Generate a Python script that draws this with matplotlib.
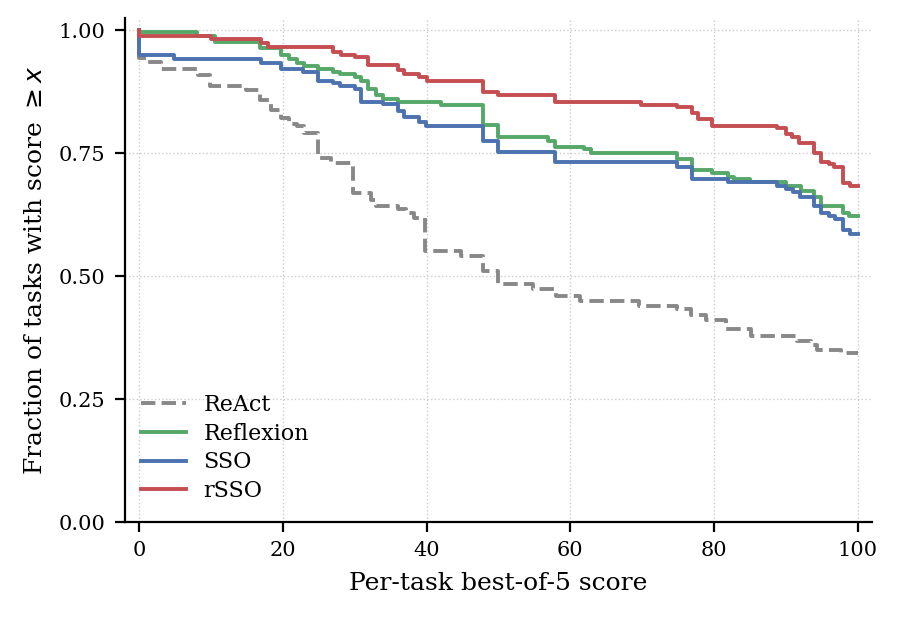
"""Survival curves of per-task best-of-5 scores for four agent variants."""

import matplotlib

matplotlib.use("Agg")
import matplotlib.pyplot as plt

# step breakpoints (x) and the level held from each breakpoint on (y)
react_x = [0, 0, 1.2, 3.1, 8.2, 9.8, 14.9, 16.8, 18.4, 19.8, 20.9, 21.9, 23.0, 24.9,
           26.7, 29.7, 32.2, 33.0, 36.0, 37.2, 38.3, 39.8, 44.8, 47.8, 49.9, 54.8,
           58.0, 61.3, 69.6, 74.9, 76.8, 78.9, 81.7, 85.1, 91.6, 93.5, 94.4, 97.7, 100]
react_y = [1.0, 0.943, 0.936, 0.922, 0.910, 0.886, 0.878, 0.858, 0.838, 0.821, 0.809,
           0.805, 0.792, 0.740, 0.730, 0.669, 0.655, 0.643, 0.636, 0.628, 0.618, 0.551,
           0.540, 0.510, 0.485, 0.473, 0.459, 0.449, 0.440, 0.433, 0.422, 0.410, 0.393,
           0.379, 0.368, 0.361, 0.349, 0.343, 0.343]

reflexion_x = [0, 0, 8.1, 10.5, 16.8, 19.8, 20.9, 21.9, 23.0, 24.9, 27.0, 27.9, 30.0,
               30.9, 31.9, 33.0, 34.0, 36.0, 42.0, 47.9, 49.9, 56.9, 57.9, 61.9, 62.9,
               74.9, 76.9, 79.8, 82.0, 82.8, 85.0, 90.0, 92.1, 94.0, 94.9, 97.9, 98.8, 100]
reflexion_y = [1.0, 0.996, 0.989, 0.976, 0.963, 0.949, 0.941, 0.934, 0.928, 0.921, 0.915,
               0.911, 0.905, 0.897, 0.880, 0.868, 0.860, 0.855, 0.849, 0.807, 0.782, 0.775,
               0.763, 0.758, 0.751, 0.738, 0.715, 0.709, 0.702, 0.697, 0.691, 0.684, 0.673,
               0.660, 0.642, 0.629, 0.623, 0.623]

sso_x = [0, 0, 4.9, 16.9, 19.8, 22.8, 24.9, 27.0, 27.9, 30.0, 30.9, 33.9, 36.0, 36.9,
         38.9, 39.9, 47.9, 49.9, 57.9, 74.9, 76.9, 81.9, 88.8, 90.0, 91.0, 92.0, 94.0,
         94.9, 96.0, 96.9, 97.9, 99.0, 100]
sso_y = [1.0, 0.949, 0.941, 0.934, 0.922, 0.915, 0.897, 0.892, 0.886, 0.880, 0.855, 0.850,
         0.836, 0.824, 0.814, 0.806, 0.775, 0.752, 0.733, 0.722, 0.698, 0.691, 0.684, 0.677,
         0.671, 0.661, 0.642, 0.629, 0.623, 0.617, 0.593, 0.586, 0.586]

rsso_x = [0, 0, 10.0, 17.0, 17.9, 27.0, 28.1, 30.0, 31.9, 36.0, 36.9, 39.0, 40.0, 47.8,
          49.9, 57.9, 69.8, 74.9, 76.9, 77.8, 79.8, 88.8, 90.0, 90.9, 91.9, 94.0, 94.9,
          96.0, 96.7, 98.0, 99.0, 100]
rsso_y = [1.0, 0.989, 0.982, 0.974, 0.965, 0.956, 0.949, 0.946, 0.929, 0.919, 0.911, 0.904,
          0.897, 0.874, 0.868, 0.855, 0.849, 0.843, 0.831, 0.819, 0.806, 0.801, 0.789, 0.782,
          0.770, 0.751, 0.733, 0.728, 0.722, 0.690, 0.684, 0.684]

x_ticks = [0, 20, 40, 60, 80, 100]
y_ticks = [0.0, 0.25, 0.5, 0.75, 1.0]


def main() -> None:
    plt.rcParams["font.family"] = "DejaVu Serif"
    plt.rcParams["mathtext.fontset"] = "dejavusans"

    fig, ax = plt.subplots(figsize=(4.49, 3.1), dpi=200)
    fig.subplots_adjust(left=0.139, right=0.971, bottom=0.158, top=0.971)

    lw = 1.4
    ax.step(react_x, react_y, where="post", color="#888888", lw=lw, ls="--", label="ReAct")
    ax.step(reflexion_x, reflexion_y, where="post", color="#55A868", lw=lw, label="Reflexion")
    ax.step(sso_x, sso_y, where="post", color="#4C72B0", lw=lw, label="SSO")
    ax.step(rsso_x, rsso_y, where="post", color="#C44E52", lw=lw, label="rSSO")

    ax.set_xlim(-2, 102)
    ax.set_ylim(0, 1.025)
    ax.set_xticks(x_ticks)
    ax.set_yticks(y_ticks)
    ax.set_yticklabels([f"{v:.2f}" for v in y_ticks])
    ax.tick_params(labelsize=7.5, width=0.8, length=3.5)
    ax.grid(True, ls=":", lw=0.5, color="#cccccc")
    ax.spines["top"].set_visible(False)
    ax.spines["right"].set_visible(False)

    ax.set_xlabel("Per-task best-of-5 score", fontsize=9)
    ax.set_ylabel(r"Fraction of tasks with score $\geq x$", fontsize=9)
    ax.legend(loc="lower left", bbox_to_anchor=(-0.005, 0.0), frameon=False, fontsize=8,
              labelspacing=0.3, borderaxespad=0.5)

    fig.savefig("out.png", dpi=200)
    plt.close(fig)


if __name__ == "__main__":
    main()
